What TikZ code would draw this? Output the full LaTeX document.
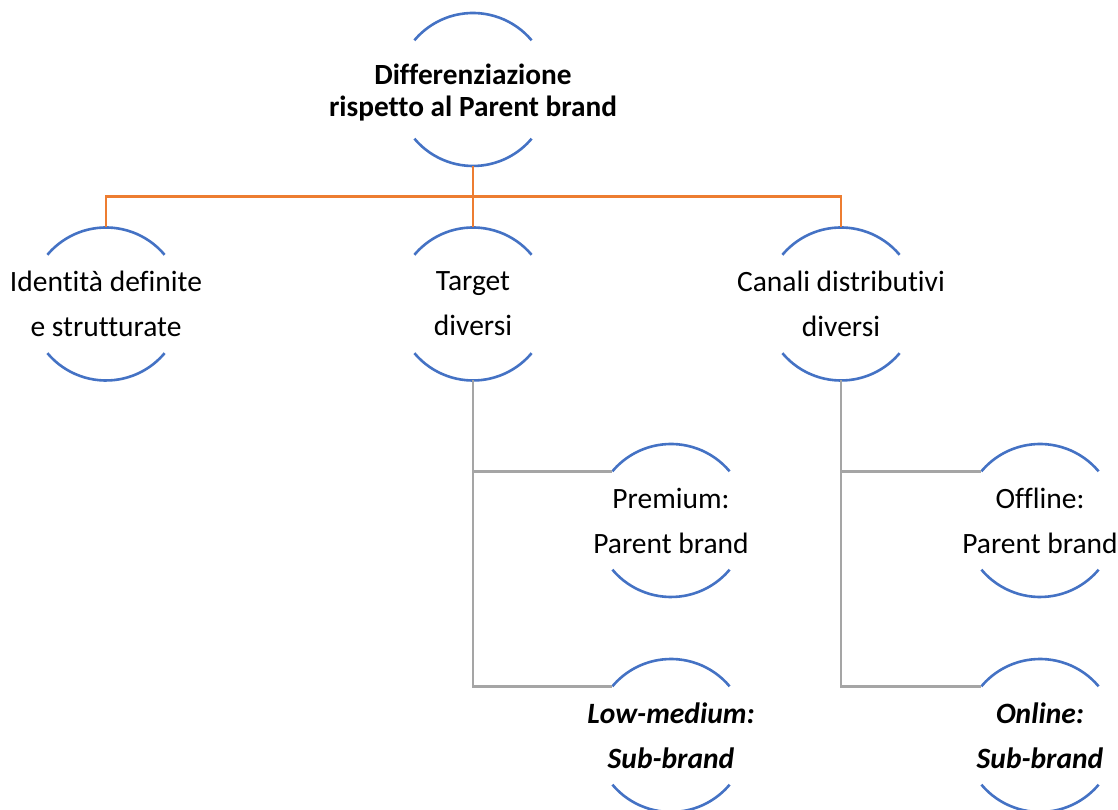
\documentclass[tikz,border=0pt]{standalone}
\usepackage{fontspec}
\setmainfont{Carlito}[Ligatures={NoCommon}]
\definecolor{arcblue}{HTML}{4472C4}
\definecolor{linkorange}{HTML}{ED7D31}
\definecolor{linkgray}{HTML}{A5A5A5}
\tikzset{
  bub/.style={circle, minimum size=153pt, inner sep=0pt, outer sep=0pt, draw=none},
  lbl/.style={align=center, inner sep=0pt, font=\fontsize{29.5}{45}\selectfont},
  lbltop/.style={align=center, inner sep=0pt, font=\fontsize{29.3}{32}\selectfont\bfseries, yshift=-3pt},
  arcline/.style={draw=arcblue, line width=2.6pt},
  orgline/.style={draw=linkorange, line width=2.6pt},
  gryline/.style={draw=linkgray, line width=2.6pt},
}
\newcommand{\bubarcs}[1]{%
  \draw[arcline] (#1.40) arc[start angle=40, end angle=140, radius=76.5pt];
  \draw[arcline] (#1.220) arc[start angle=220, end angle=320, radius=76.5pt];
}
\begin{document}
\begin{tikzpicture}[x=1pt,y=1pt]
\useasboundingbox (0,0) rectangle (1118,810);
\node[bub, label={[lbltop]center:{Differenziazione\\rispetto al Parent brand}}] (T) at (473,720.5) {};
\node[bub, label={[lbl]center:{Identità definite\\e strutturate}}] (A) at (106,506) {};
\node[bub, label={[lbl]center:{Target\\diversi}}] (B) at (473,506) {};
\node[bub, label={[lbl]center:{Canali distributivi\\diversi}}] (C) at (841,506) {};
\node[bub, label={[lbl]center:{Premium:\\Parent brand}}] (P) at (671,289.5) {};
\node[bub, label={[lbl]center:{\itshape\bfseries Low-medium:\\\itshape\bfseries Sub-brand}}] (L) at (671,74.5) {};
\node[bub, label={[lbl]center:{Offline:\\Parent brand}}] (O) at (1040,289.5) {};
\node[bub, label={[lbl]center:{\itshape\bfseries Online:\\\itshape\bfseries Sub-brand}}] (N) at (1040,74.5) {};
\bubarcs{T}\bubarcs{A}\bubarcs{B}\bubarcs{C}\bubarcs{P}\bubarcs{L}\bubarcs{O}\bubarcs{N}
\draw[orgline] (T.south) -- (B.north);
\draw[orgline] (A.north) -- ++(0,31) -| (C.north);
\draw[gryline] (B.south) |- (P.140);
\draw[gryline] (B.south) |- (L.140);
\draw[gryline] (C.south) |- (O.140);
\draw[gryline] (C.south) |- (N.140);
\end{tikzpicture}
\end{document}
